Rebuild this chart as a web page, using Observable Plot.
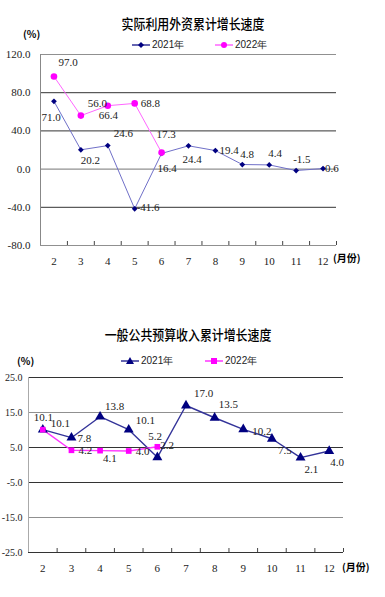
<!DOCTYPE html>
<html><head><meta charset="utf-8">
<script src="https://cdn.jsdelivr.net/npm/d3@7"></script>
<script src="https://cdn.jsdelivr.net/npm/@observablehq/plot@0.6"></script>
<style>
body{margin:0;background:#fff;}
#wrap{position:relative;width:385px;height:597px;overflow:hidden;font-family:"Liberation Serif",serif;}
.abs{position:absolute;white-space:nowrap;line-height:1;}
.title{font-family:"Noto Sans CJK SC",sans-serif;font-size:14px;font-weight:500;color:#000;transform:translateX(-50%) scaleX(0.85);}
.unit{font-family:"Noto Sans CJK SC",sans-serif;font-size:10px;font-weight:700;}
.leg{font-family:"Liberation Sans Narrow","Liberation Sans",sans-serif;font-size:10px;color:#222;}
.chart{position:absolute;left:0;}
</style></head>
<body><div id="wrap"></div>
<script>
// ---------- data ----------
const months = [2,3,4,5,6,7,8,9,10,11,12];
const fdi2021 = [71.0,20.2,24.6,-41.6,16.4,24.4,19.4,4.8,4.4,-1.5,0.6];
const fdi2022 = [97.0,56.0,66.4,68.8,17.3];
const rev2021 = [10.1,7.8,13.8,10.1,2.2,17.0,13.5,10.2,7.5,2.1,4.0];
const rev2022 = [10.1,4.2,4.1,4.0,5.2];
const fdiTicks = [-80,-40,0,40,80,120];
const revTicks = [-25,-15,-5,5,15,25];
const seriesNames = ["2021年","2022年"];
const title1 = "实际利用外资累计增长速度";
const title2 = "一般公共预算收入累计增长速度";
const unitLabel = "(%)";
const monthLabel = "(月份)";

// ---------- layout (label offsets in px) ----------
const fdiOff21 = [[-12.5,16],[0,11],[6,-12],[2,-1],[-4,15],[-6,14],[4,0],[-2,-10],[-1,-11],[-3,-11],[2,0]];
const fdiOff22 = [[4.5,-14],[7,-12],[-9,10],[6,0],[-5,-18]];
const revOff21 = [[8,-6],[6,1],[5,-10],[7,-9],[3,-12],[8,-12],[4,-13],[9,2],[6,12],[4,12],[1,11]];
const revOff22 = [[-9,-12],[7,0],[3,8],[7,0],[-9,-10]];

const fmt = v => v.toFixed(1).replace("\u2212","-");
const bounds = months.map(m => m + 0.5);

function labels(data, offs){
  return data.map((d,i) => Plot.text([d], {x:"m", y:"v", text: d => fmt(d.v),
    dx: offs[i][0], dy: offs[i][1], textAnchor:"start", fontSize:11, fill:"#222"}));
}

function makeChart(o){
  const d21 = o.v21.map((v,i)=>({m:months[i], v}));
  const d22 = o.v22.map((v,i)=>({m:months[i], v}));
  const yMin = o.ticks[0], yMax = o.ticks[o.ticks.length-1];
  return Plot.plot({
    width:385, height:o.H,
    marginTop:o.mt, marginBottom:o.mb, marginLeft:o.ml, marginRight:o.mr,
    x:{domain:[1.5,12.5]},
    y:{domain:[yMin,yMax]},
    style:{fontFamily:'"Liberation Serif",serif', fontSize:"11px", background:"transparent", overflow:"visible"},
    marks:[
      Plot.ruleY(o.grayY, {stroke:"#909090", strokeWidth:1.2}),
      Plot.ruleY(o.darkY, {stroke:"#333", strokeWidth:1}),
      Plot.ruleX([1.5], {stroke:o.leftAxis, strokeWidth:1}),
      Plot.ruleX(bounds, {stroke:"#444", insetTop:o.frameH - 4}),
      Plot.axisY({ticks:o.ticks, tickSize:0, tickPadding:o.yPad, tickFormat:fmt, label:null, fontSize:o.yFont, fill:"#222"}),
      Plot.axisX({ticks:months, tickSize:0, tickPadding:12, tickFormat:d=>String(d), label:null, fontSize:11, fill:"#222"}),
      Plot.line(d21, {x:"m", y:"v", stroke:o.c21line, strokeWidth:o.lw}),
      Plot.line(d22, {x:"m", y:"v", stroke:o.c22line, strokeWidth:o.lw}),
      Plot.dot(d21, {x:"m", y:"v", symbol:o.s21, r:o.r21, fill:"#000080", stroke:"none"}),
      Plot.dot(d22, {x:"m", y:"v", symbol:o.s22, r:o.r22, fill:"#ff00ff", stroke:"none"}),
      ...labels(d21, o.off21),
      ...labels(d22, o.off22)
    ]
  });
}

const wrap = document.getElementById("wrap");

const c1 = makeChart({v21:fdi2021, v22:fdi2022, ticks:fdiTicks, off21:fdiOff21, off22:fdiOff22,
  H:290, mt:54, mb:45, ml:40, mr:49, frameH:191,
  grayY:[120,0,-80], darkY:[80,40,-40], leftAxis:"#888", yPad:10, yFont:11,
  c21line:"#7070c8", c22line:"#ff66ff", lw:1, s21:"diamond2", r21:2.6, s22:"circle", r22:3.3});
c1.classList.add("chart"); c1.style.top = "0px";
wrap.appendChild(c1);

const c2 = makeChart({v21:rev2021, v22:rev2022, ticks:revTicks, off21:revOff21, off22:revOff22,
  H:297, mt:77, mb:45, ml:28, mr:42, frameH:175,
  grayY:[15,-15], darkY:[25,5,-5,-25], leftAxis:"#aaa", yPad:6, yFont:10,
  c21line:"#333399", c22line:"#ff33ff", lw:1.4, s21:"triangle", r21:3.7, s22:"square", r22:3.2});
c2.classList.add("chart"); c2.style.top = "300px";
wrap.appendChild(c2);

function addText(txt, cls, left, top){
  const d = document.createElement("div");
  d.className = "abs " + cls; d.textContent = txt;
  d.style.left = left + "px"; d.style.top = top + "px";
  wrap.appendChild(d); return d;
}
function legendItem(left, top, color, marker, name){
  const s = document.createElementNS("http://www.w3.org/2000/svg","svg");
  s.setAttribute("width",18); s.setAttribute("height",10);
  s.style.position="absolute"; s.style.left=left+"px"; s.style.top=top+"px";
  let m = "";
  if (marker==="diamond") m = `<path d="M9,2L12,5L9,8L6,5Z" fill="#000080"/>`;
  if (marker==="circle") m = `<circle cx="9" cy="5" r="3" fill="#ff00ff"/>`;
  if (marker==="triangle") m = `<path d="M9,1L13,8L5,8Z" fill="#000080"/>`;
  if (marker==="square") m = `<rect x="6" y="2" width="6" height="6" fill="#ff00ff"/>`;
  s.innerHTML = `<line x1="0" y1="5" x2="18" y2="5" stroke="${color}" stroke-width="1.5"/>` + m;
  wrap.appendChild(s);
  addText(name, "leg", left + 20, top);
}

// chart 1 texts
addText(title1, "title", 193, 16);
addText(unitLabel, "unit", 23, 29);
legendItem(132, 40, "#333399", "diamond", seriesNames[0]);
legendItem(215, 40, "#ff66ff", "circle", seriesNames[1]);
addText(monthLabel, "unit", 333, 253);

// chart 2 texts
addText(title2, "title", 188, 327);
addText(unitLabel, "unit", 17, 356);
legendItem(121, 356, "#333399", "triangle", seriesNames[0]);
legendItem(205, 356, "#ff33ff", "square", seriesNames[1]);
addText(monthLabel, "unit", 342, 562);
</script></body></html>
